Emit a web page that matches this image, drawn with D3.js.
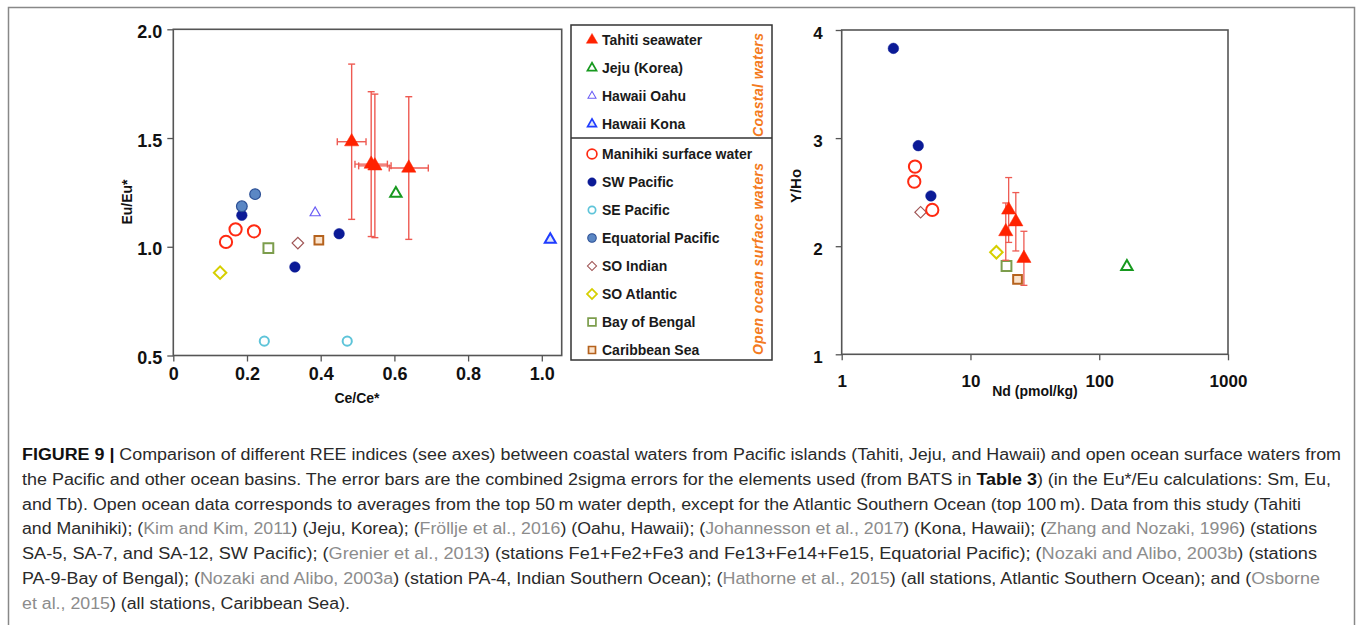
<!DOCTYPE html>
<html lang="en">
<head>
<meta charset="UTF-8">
<title>Figure 9 - REE indices</title>
<script src="https://d3js.org/d3.v7.min.js"></script>
<style>
  * { margin: 0; padding: 0; }
  body { background: #fff; }
  svg { display: block; font-family: "Liberation Sans", Arial, sans-serif; }
</style>
</head>
<body>
<div class="figure"></div>
<script>
// ---- left panel data: Ce/Ce* vs Eu/Eu* ----
var tahitiCe = [0.484, 0.537, 0.547, 0.639];
var tahitiEu = [1.483, 1.380, 1.372, 1.362];
var tahitiCeErr = [0.039, 0.044, 0.044, 0.053];
var tahitiEuErr = [0.357, 0.333, 0.330, 0.328];
var jejuCe = [0.604], jejuEu = [1.245];
var oahuCe = [0.385], oahuEu = [1.156];
var konaCe = [1.023], konaEu = [1.033];
var manihikiCe = [0.143, 0.169, 0.219], manihikiEu = [1.022, 1.080, 1.071];
var swPacCe = [0.186, 0.330, 0.450], swPacEu = [1.145, 0.907, 1.060];
var sePacCe = [0.247, 0.472], sePacEu = [0.566, 0.566];
var eqPacCe = [0.186, 0.222], eqPacEu = [1.186, 1.242];
var soIndianCe = [0.338], soIndianEu = [1.017];
var soAtlCe = [0.127], soAtlEu = [0.881];
var bengalCe = [0.258], bengalEu = [0.994];
var caribCe = [0.395], caribEu = [1.030];

// ---- right panel data: Nd vs Y/Ho ----
var tahitiNd = [19.8, 18.8, 22.5, 26.0];
var tahitiYHo = [2.335, 2.135, 2.226, 1.888];
var tahitiYHoErr = [0.30, 0.265, 0.27, 0.25];
var jejuNd = [164], jejuYHo = [1.811];
var manihikiNd = [3.71, 3.66, 5.05], manihikiYHo = [2.736, 2.597, 2.335];
var swPacNd = [2.52, 3.93, 4.93], swPacYHo = [3.83, 2.93, 2.465];
var soIndianNd = [4.10], soIndianYHo = [2.314];
var soAtlNd = [15.9], soAtlYHo = [1.944];
var bengalNd = [19.05], bengalYHo = [1.817];
var caribNd = [23.2], caribYHo = [1.694];

// ticks
var ceTicks = [0, 0.2, 0.4, 0.6, 0.8, 1.0];
var euTicks = [0.5, 1.0, 1.5, 2.0];
var ndTicks = [1, 10, 100, 1000];
var yhoTicks = [1, 2, 3, 4];

// legend
var legendKeys = ['tahiti', 'jeju', 'oahu', 'kona', 'manihiki', 'swPac', 'sePac', 'eqPac', 'soIndian', 'soAtl', 'bengal', 'carib'];
var legendLabels = ['Tahiti seawater', 'Jeju (Korea)', 'Hawaii Oahu', 'Hawaii Kona', 'Manihiki surface water', 'SW Pacific',
  'SE Pacific', 'Equatorial Pacific', 'SO Indian', 'SO Atlantic', 'Bay of Bengal', 'Caribbean Sea'];

// caption lines: [text, style]  b = bold, n = normal, c = citation
var captionLines = [
  [['FIGURE 9 | ', 'b'], ['Comparison of different REE indices (see axes) between coastal waters from Pacific islands (Tahiti, Jeju, and Hawaii) and open ocean surface waters from', 'n']],
  [['the Pacific and other ocean basins. The error bars are the combined 2sigma errors for the elements used (from BATS in ', 'n'], ['Table 3', 'b'], [') (in the Eu*/Eu calculations: Sm, Eu,', 'n']],
  [['and Tb). Open ocean data corresponds to averages from the top 50\u2009m water depth, except for the Atlantic Southern Ocean (top 100\u2009m). Data from this study (Tahiti', 'n']],
  [['and Manihiki); (', 'n'], ['Kim and Kim, 2011', 'c'], [') (Jeju, Korea); (', 'n'], ['Fröllje et al., 2016', 'c'], [') (Oahu, Hawaii); (', 'n'], ['Johannesson et al., 2017', 'c'], [') (Kona, Hawaii); (', 'n'], ['Zhang and Nozaki, 1996', 'c'], [') (stations', 'n']],
  [['SA-5, SA-7, and SA-12, SW Pacific); (', 'n'], ['Grenier et al., 2013', 'c'], [') (stations Fe1+Fe2+Fe3 and Fe13+Fe14+Fe15, Equatorial Pacific); (', 'n'], ['Nozaki and Alibo, 2003b', 'c'], [') (stations', 'n']],
  [['PA-9-Bay of Bengal); (', 'n'], ['Nozaki and Alibo, 2003a', 'c'], [') (station PA-4, Indian Southern Ocean); (', 'n'], ['Hathorne et al., 2015', 'c'], [') (all stations, Atlantic Southern Ocean); and (', 'n'], ['Osborne', 'c']],
  [['et al., 2015', 'c'], [') (all stations, Caribbean Sea).', 'n']]
];
var captionWidths = [1319, 1309, 1279, 1295, 1295, 1298, 328];

// marker styles
var styles = {
  tahiti:   { shape: d3.symbolTriangle, size: 88, fill: '#ff2200', stroke: '#ff2200', sw: 0.5 },
  jeju:     { shape: d3.symbolTriangle, size: 56, fill: '#fff', stroke: '#17991f', sw: 2 },
  oahu:     { shape: d3.symbolTriangle, size: 44, fill: '#fff', stroke: '#6a5cf5', sw: 1.2 },
  kona:     { shape: d3.symbolTriangle, size: 52, fill: '#dfe6f7', stroke: '#1f3cff', sw: 2 },
  manihiki: { shape: d3.symbolCircle, size: 118, fill: 'none', stroke: '#ff2a12', sw: 2 },
  swPac:    { shape: d3.symbolCircle, size: 88, fill: '#0b1a96', stroke: '#0b1a96', sw: 0.5 },
  sePac:    { shape: d3.symbolCircle, size: 66, fill: '#fff', stroke: '#5ec4d9', sw: 2 },
  eqPac:    { shape: d3.symbolCircle, size: 90, fill: '#5b87c4', stroke: '#2b4f95', sw: 1.2 },
  soIndian: { shape: d3.symbolSquare, size: 66, fill: '#fff', stroke: '#a05656', sw: 1.2, rot: 45 },
  soAtl:    { shape: d3.symbolSquare, size: 78, fill: '#fff', stroke: '#d6cf00', sw: 2, rot: 45 },
  bengal:   { shape: d3.symbolSquare, size: 96, fill: '#fff', stroke: '#7c9d4c', sw: 2 },
  carib:    { shape: d3.symbolSquare, size: 76, fill: '#fbe3cc', stroke: '#b5621d', sw: 2 }
};

var errColor = '#ee5a52';
var frameColor = '#555';

var svg = d3.select('.figure')
  .append('svg')
  .attr('width', 1358)
  .attr('height', 625);

// outer figure frame
svg.append('rect')
  .attr('x', 8.5).attr('y', 7.5)
  .attr('width', 1346).attr('height', 700)
  .attr('fill', 'none')
  .attr('stroke', '#888')
  .attr('stroke-width', 1.5);

function drawMarker(g, key, px, py, scale) {
  var s = styles[key];
  var k = scale || 1;
  g.append('path')
    .attr('d', d3.symbol().type(s.shape).size(s.size * k * k)())
    .attr('transform', 'translate(' + px + ',' + py + ')' + (s.rot ? ' rotate(' + s.rot + ')' : ''))
    .attr('fill', s.fill)
    .attr('stroke', s.stroke)
    .attr('stroke-width', s.sw * (k < 1 ? 0.85 : 1));
}

function drawSeries(g, key, xs, ys, xScale, yScale) {
  xs.forEach(function (d, i) {
    drawMarker(g, key, xScale(d), yScale(ys[i]));
  });
}

function styleAxis(ax, fontSize) {
  ax.select('.domain').remove();
  ax.selectAll('.tick line').attr('stroke', frameColor).attr('stroke-width', 1.3);
  ax.selectAll('.tick text')
    .attr('fill', '#111')
    .style('font-size', fontSize + 'px')
    .style('font-weight', 'bold')
    .style('font-family', '"Liberation Sans", Arial, sans-serif');
}

/* ---------- left panel ---------- */
var xL = d3.scaleLinear().domain([0, 1.054]).range([173.3, 561.7]);
var yL = d3.scaleLinear().domain([0.5, 2.0]).range([355.5, 29.3]);

var gL = svg.append('g');

var axL = gL.append('g')
  .attr('transform', 'translate(' + xL.range()[0] + ',0)')
  .call(d3.axisLeft(yL).tickValues(euTicks).tickSize(6).tickPadding(5).tickFormat(d3.format('.1f')));
styleAxis(axL, 18);
axL.selectAll('.tick text').attr('dy', '0.45em');

var axLb = gL.append('g')
  .attr('transform', 'translate(0,' + yL.range()[0] + ')')
  .call(d3.axisBottom(xL).tickValues(ceTicks).tickSize(6).tickPadding(6)
    .tickFormat(function (d) { return d === 0 ? '0' : d3.format('.1f')(d); }));
styleAxis(axLb, 18);

gL.append('rect')
  .attr('x', xL.range()[0]).attr('y', yL.range()[1])
  .attr('width', xL.range()[1] - xL.range()[0])
  .attr('height', yL.range()[0] - yL.range()[1])
  .attr('fill', 'none')
  .attr('stroke', frameColor)
  .attr('stroke-width', 1.6);

gL.append('text')
  .attr('x', 357).attr('y', 403)
  .attr('text-anchor', 'middle')
  .style('font-size', '14px').style('font-weight', 'bold')
  .attr('fill', '#111')
  .text('Ce/Ce*');

gL.append('text')
  .attr('transform', 'translate(132,202) rotate(-90)')
  .attr('text-anchor', 'middle')
  .style('font-size', '14px').style('font-weight', 'bold')
  .attr('fill', '#111')
  .text('Eu/Eu*');

drawSeries(gL, 'manihiki', manihikiCe, manihikiEu, xL, yL);
drawSeries(gL, 'swPac', swPacCe, swPacEu, xL, yL);
drawSeries(gL, 'sePac', sePacCe, sePacEu, xL, yL);
drawSeries(gL, 'eqPac', eqPacCe, eqPacEu, xL, yL);
drawSeries(gL, 'soIndian', soIndianCe, soIndianEu, xL, yL);
drawSeries(gL, 'soAtl', soAtlCe, soAtlEu, xL, yL);
drawSeries(gL, 'bengal', bengalCe, bengalEu, xL, yL);
drawSeries(gL, 'carib', caribCe, caribEu, xL, yL);
drawSeries(gL, 'oahu', oahuCe, oahuEu, xL, yL);
drawSeries(gL, 'kona', konaCe, konaEu, xL, yL);
drawSeries(gL, 'jeju', jejuCe, jejuEu, xL, yL);

// Tahiti error bars (x and y)
var errL = gL.append('g').attr('stroke', errColor).attr('stroke-width', 1.4);
tahitiCe.forEach(function (d, i) {
  var cx = xL(d), cy = yL(tahitiEu[i]);
  var y0 = yL(tahitiEu[i] - tahitiEuErr[i]), y1 = yL(tahitiEu[i] + tahitiEuErr[i]);
  var x0 = xL(d - tahitiCeErr[i]), x1 = xL(d + tahitiCeErr[i]);
  errL.append('line').attr('x1', cx).attr('x2', cx).attr('y1', y0).attr('y2', y1);
  errL.append('line').attr('x1', cx - 3.5).attr('x2', cx + 3.5).attr('y1', y0).attr('y2', y0);
  errL.append('line').attr('x1', cx - 3.5).attr('x2', cx + 3.5).attr('y1', y1).attr('y2', y1);
  errL.append('line').attr('x1', x0).attr('x2', x1).attr('y1', cy).attr('y2', cy);
  errL.append('line').attr('x1', x0).attr('x2', x0).attr('y1', cy - 3.5).attr('y2', cy + 3.5);
  errL.append('line').attr('x1', x1).attr('x2', x1).attr('y1', cy - 3.5).attr('y2', cy + 3.5);
});
drawSeries(gL, 'tahiti', tahitiCe, tahitiEu, xL, yL);

/* ---------- legend ---------- */
var leg = svg.append('g');
leg.append('rect')
  .attr('x', 571).attr('y', 25)
  .attr('width', 201).attr('height', 335)
  .attr('fill', 'none')
  .attr('stroke', '#333')
  .attr('stroke-width', 1.5);
leg.append('line')
  .attr('x1', 571).attr('x2', 772)
  .attr('y1', 138).attr('y2', 138)
  .attr('stroke', '#333')
  .attr('stroke-width', 1.5);

var legY = d3.scalePoint().domain(legendKeys).range([40, 348]);
legendKeys.forEach(function (k, i) {
  var y = legY(k) + (i >= 4 ? 2 : 0);
  drawMarker(leg, k, 592, y, 0.8);
  leg.append('text')
    .attr('x', 602).attr('y', y + 5)
    .style('font-size', '14px').style('font-weight', 'bold')
    .attr('fill', '#1a1a1a')
    .text(legendLabels[i]);
});

leg.append('text')
  .attr('transform', 'translate(763,85) rotate(-90)')
  .attr('text-anchor', 'middle')
  .attr('textLength', 104)
  .style('font-size', '14px').style('font-style', 'italic').style('font-weight', 'bold')
  .attr('fill', '#f47a20')
  .text('Coastal waters');
leg.append('text')
  .attr('transform', 'translate(763,259) rotate(-90)')
  .attr('text-anchor', 'middle')
  .attr('textLength', 192)
  .style('font-size', '14px').style('font-style', 'italic').style('font-weight', 'bold')
  .attr('fill', '#f47a20')
  .text('Open ocean surface waters');

/* ---------- right panel ---------- */
var xR = d3.scaleLog().domain([1, 1000]).range([841.7, 1228]);
var yR = d3.scaleLinear().domain([1, 4]).range([354.3, 30]);

var gR = svg.append('g');

var axR = gR.append('g')
  .attr('transform', 'translate(' + xR.range()[0] + ',0)')
  .call(d3.axisLeft(yR).tickValues(yhoTicks).tickSize(6).tickPadding(13).tickFormat(d3.format('d')));
styleAxis(axR, 17);
axR.selectAll('.tick text').attr('dy', '0.5em');

var axRb = gR.append('g')
  .attr('transform', 'translate(0,' + yR.range()[0] + ')')
  .call(d3.axisBottom(xR).tickValues(ndTicks).tickSize(6).tickPadding(15).tickFormat(d3.format('d')));
styleAxis(axRb, 17);

gR.append('rect')
  .attr('x', xR.range()[0]).attr('y', yR.range()[1])
  .attr('width', xR.range()[1] - xR.range()[0])
  .attr('height', yR.range()[0] - yR.range()[1])
  .attr('fill', 'none')
  .attr('stroke', frameColor)
  .attr('stroke-width', 1.6);

gR.append('text')
  .attr('x', 1035).attr('y', 396)
  .attr('text-anchor', 'middle')
  .style('font-size', '14px').style('font-weight', 'bold')
  .attr('fill', '#111')
  .text('Nd (pmol/kg)');

gR.append('text')
  .attr('transform', 'translate(801,186) rotate(-90)')
  .attr('text-anchor', 'middle')
  .style('font-size', '15px').style('font-weight', 'bold')
  .attr('fill', '#111')
  .text('Y/Ho');

drawSeries(gR, 'soIndian', soIndianNd, soIndianYHo, xR, yR);
drawSeries(gR, 'manihiki', manihikiNd, manihikiYHo, xR, yR);
drawSeries(gR, 'swPac', swPacNd, swPacYHo, xR, yR);
drawSeries(gR, 'soAtl', soAtlNd, soAtlYHo, xR, yR);
drawSeries(gR, 'bengal', bengalNd, bengalYHo, xR, yR);
drawSeries(gR, 'jeju', jejuNd, jejuYHo, xR, yR);

var errR = gR.append('g').attr('stroke', errColor).attr('stroke-width', 1.3);
tahitiNd.forEach(function (d, i) {
  var cx = xR(d);
  var y0 = yR(tahitiYHo[i] - tahitiYHoErr[i]), y1 = yR(tahitiYHo[i] + tahitiYHoErr[i]);
  errR.append('line').attr('x1', cx).attr('x2', cx).attr('y1', y0).attr('y2', y1);
  errR.append('line').attr('x1', cx - 3.5).attr('x2', cx + 3.5).attr('y1', y0).attr('y2', y0);
  errR.append('line').attr('x1', cx - 3.5).attr('x2', cx + 3.5).attr('y1', y1).attr('y2', y1);
});
drawSeries(gR, 'carib', caribNd, caribYHo, xR, yR);
drawSeries(gR, 'tahiti', tahitiNd, tahitiYHo, xR, yR);

/* ---------- caption ---------- */
var cap = svg.append('g');
captionLines.forEach(function (line, i) {
  var t = cap.append('text')
    .attr('x', 22)
    .attr('y', 460 + i * 24.8)
    .attr('textLength', captionWidths[i])
    .attr('lengthAdjust', 'spacingAndGlyphs')
    .style('font-size', '16px');
  line.forEach(function (seg) {
    t.append('tspan')
      .attr('fill', seg[1] === 'c' ? '#8c8c8c' : (seg[1] === 'b' ? '#111' : '#2a2a2a'))
      .style('font-weight', seg[1] === 'b' ? 'bold' : 'normal')
      .text(seg[0]);
  });
});
</script>
</body>
</html>
